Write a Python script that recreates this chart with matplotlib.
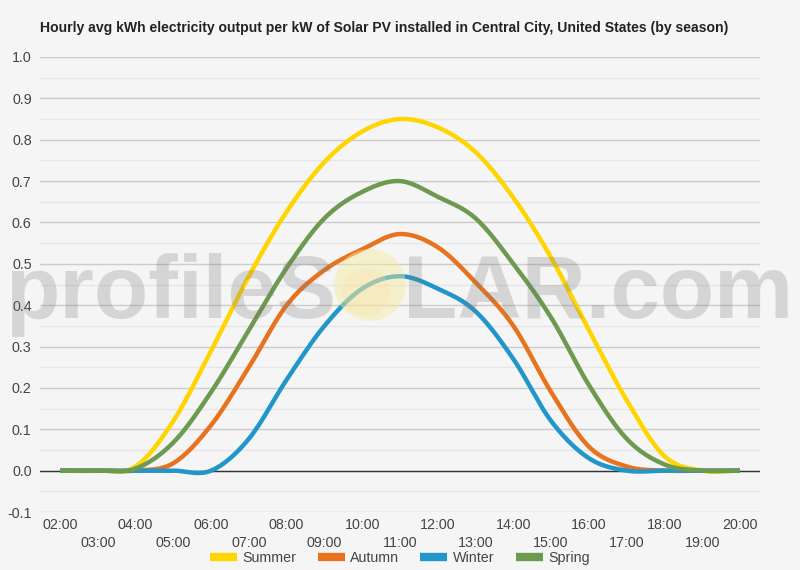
import numpy as np
import matplotlib
matplotlib.use("Agg")
import matplotlib.pyplot as plt
from matplotlib.patches import Ellipse
from matplotlib.lines import Line2D

plt.rcParams['font.family'] = ['Liberation Sans', 'DejaVu Sans']

title = "Hourly avg kWh electricity output per kW of Solar PV installed in Central City, United States (by season)"
hours = list(range(2, 21))
hour_labels = [f"{h:02d}:00" for h in hours]

summer = [0.0, 0.0, 0.01, 0.12, 0.29, 0.47, 0.626, 0.746, 0.82, 0.85, 0.83, 0.77, 0.66, 0.515, 0.34, 0.17, 0.035, 0.0, 0.0]
autumn = [0.0, 0.0, 0.0, 0.018, 0.11, 0.25, 0.40, 0.485, 0.535, 0.572, 0.54, 0.455, 0.35, 0.19, 0.058, 0.01, 0.0, 0.0, 0.0]
winter = [0.0, 0.0, 0.0, 0.0, 0.0, 0.077, 0.22, 0.35, 0.44, 0.47, 0.44, 0.385, 0.27, 0.12, 0.03, 0.0, 0.0, 0.0, 0.0]
spring = [0.0, 0.0, 0.005, 0.068, 0.19, 0.34, 0.49, 0.61, 0.674, 0.70, 0.662, 0.61, 0.50, 0.37, 0.207, 0.077, 0.015, 0.0, 0.0]

series = [("Summer", summer, "#FFD500"),
          ("Autumn", autumn, "#E8731E"),
          ("Winter", winter, "#2196C8"),
          ("Spring", spring, "#6C9A4E")]


def catmull_rom(x, y, n=30):
    x = np.asarray(x, float)
    y = np.asarray(y, float)
    px = np.concatenate([[x[0]], x, [x[-1]]])
    py = np.concatenate([[y[0]], y, [y[-1]]])
    xs, ys = [], []
    t = np.linspace(0, 1, n, endpoint=False)
    for i in range(1, len(px) - 2):
        p0, p1, p2, p3 = py[i - 1], py[i], py[i + 1], py[i + 2]
        m1 = (p2 - p0) / 2
        m2 = (p3 - p1) / 2
        h00 = 2 * t**3 - 3 * t**2 + 1
        h10 = t**3 - 2 * t**2 + t
        h01 = -2 * t**3 + 3 * t**2
        h11 = t**3 - t**2
        ys.append(h00 * p1 + h10 * m1 + h01 * p2 + h11 * m2)
        xs.append(px[i] + t * (px[i + 1] - px[i]))
    xs.append([x[-1]])
    ys.append([y[-1]])
    return np.concatenate(xs), np.concatenate(ys)


bg = "#F5F5F5"
fig = plt.figure(figsize=(8, 5.7), dpi=100, facecolor=bg)
ax = fig.add_axes([0.05, 1 - 512 / 570, 0.90, (512 - 57) / 570])
ax.set_facecolor(bg)

ax.set_xlim(1.471, 20.529)
ax.set_ylim(-0.1, 1.0)

yt = np.round(np.arange(-0.1, 1.01, 0.1), 2)
ax.set_yticks(yt)
ax.set_yticklabels([f"{v:.1f}" for v in yt])
ax.set_yticks(np.round(np.arange(-0.05, 1.0, 0.1), 2), minor=True)
ax.grid(axis='y', which='major', color="#CCCCCC", linewidth=1.0)
ax.grid(axis='y', which='minor', color="#E6E6E6", linewidth=1.0)
ax.axhline(0, color="#333333", linewidth=1.0, zorder=2)
for s in ax.spines.values():
    s.set_visible(False)

fs = 10.3
even = [h for h in hours if h % 2 == 0]
odd = [h for h in hours if h % 2 == 1]
ax.set_xticks(even)
ax.set_xticklabels([hour_labels[hours.index(h)] for h in even])
ax.set_xticks(odd, minor=True)
ax.set_xticklabels([hour_labels[hours.index(h)] for h in odd], minor=True)
ax.tick_params(axis='x', which='major', length=0, pad=4, labelsize=fs, labelcolor="#444444")
ax.tick_params(axis='x', which='minor', length=0, pad=17, labelsize=fs, labelcolor="#444444")
ax.tick_params(axis='y', which='both', length=0, pad=6, labelsize=fs, labelcolor="#444444")

for name, vals, col in series:
    sx, sy = catmull_rom(hours, vals)
    ax.plot(sx, sy, color=col, linewidth=3.2, solid_capstyle='butt', zorder=3)

# watermark
wm = dict(fontsize=64, fontweight='bold', color="#7A7A7A", alpha=0.26,
          ha='left', va='baseline', zorder=10)
fig.text(5 / 800, 1 - 318 / 570, "profileS", **wm)
fig.text(403 / 800, 1 - 318 / 570, "LAR.com", **wm)
sun = Ellipse((370 / 800, 1 - 285 / 570), 72 / 800, 72 / 570, transform=fig.transFigure,
              facecolor="#F7EC9A", alpha=0.45, edgecolor='none', zorder=9)
fig.patches.append(sun)
sun2 = Ellipse((366 / 800, 1 - 292 / 570), 48 / 800, 48 / 570, transform=fig.transFigure,
               facecolor="#F5D9A0", alpha=0.25, edgecolor='none', zorder=9)
fig.patches.append(sun2)

fig.text(40 / 800, 1 - 28 / 570, title, fontsize=10.1, fontweight='bold', color="#222222",
         ha='left', va='center')

handles = [Line2D([0], [0], color=c, linewidth=6, solid_capstyle='butt') for _, _, c in series]
leg = fig.legend(handles, [n for n, _, _ in series], loc='center', bbox_to_anchor=(0.5, 1 - 558 / 570),
                 ncol=4, frameon=False, fontsize=fs, handlelength=1.9, columnspacing=1.45,
                 handletextpad=0.4, borderaxespad=0, borderpad=0)
for t in leg.get_texts():
    t.set_color("#444444")

fig.savefig("out.png", dpi=100, facecolor=bg)
